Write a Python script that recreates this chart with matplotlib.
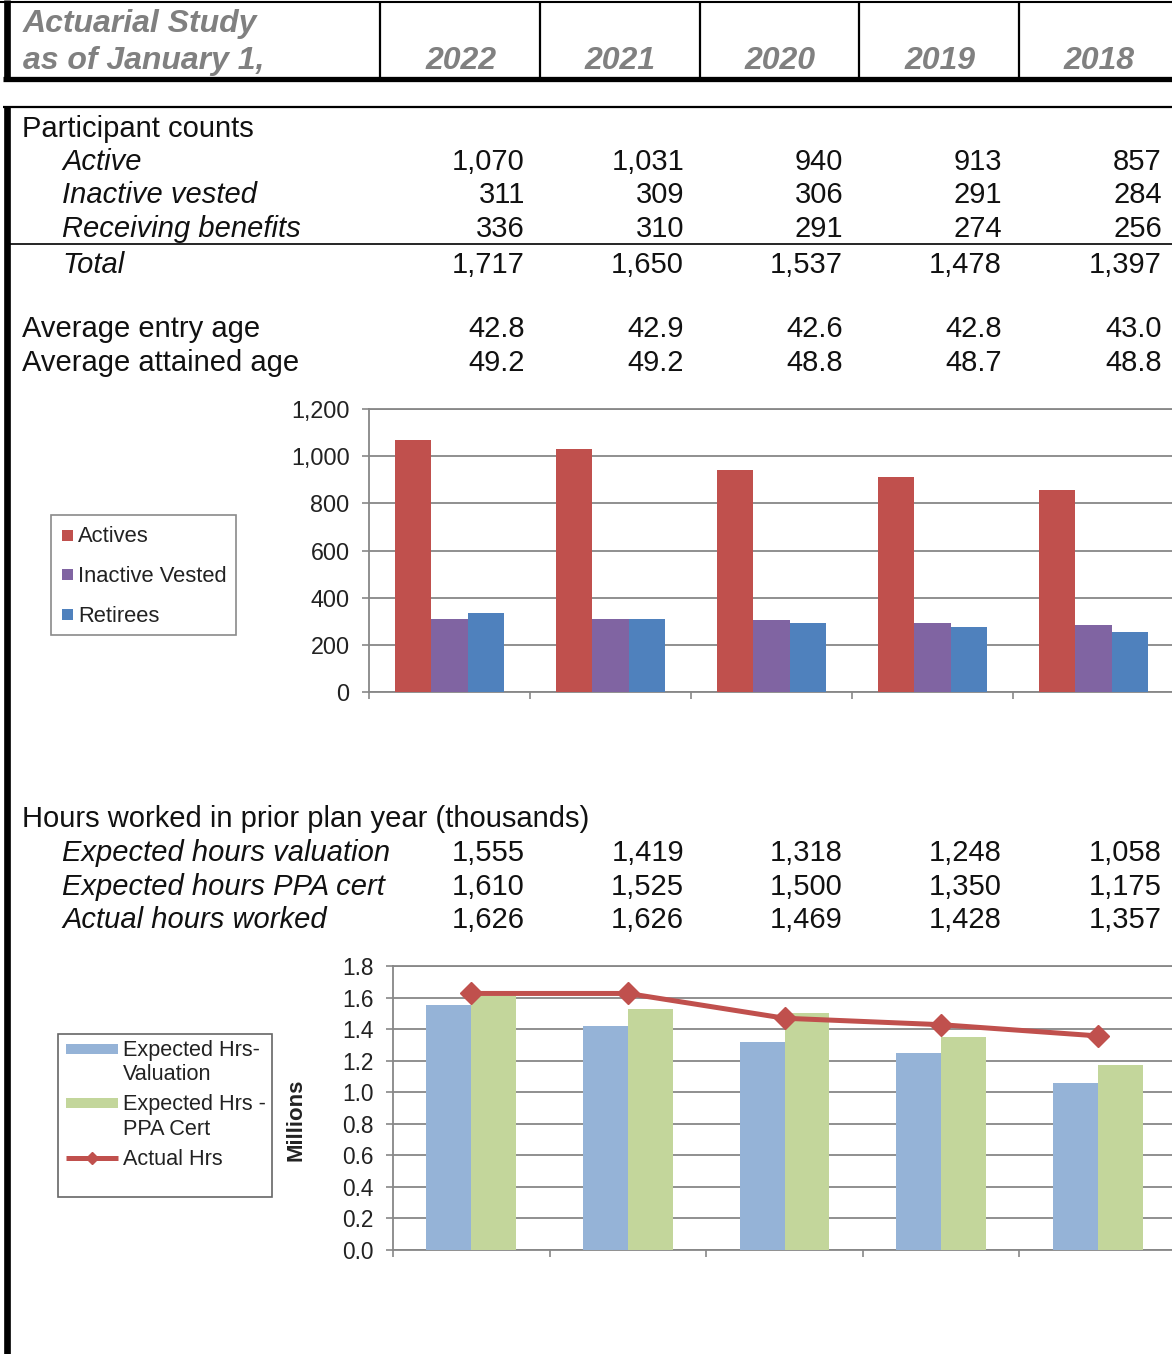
import numpy as np
import matplotlib
matplotlib.use("Agg")
import matplotlib.pyplot as plt
from matplotlib.lines import Line2D
from matplotlib.patches import Rectangle
from matplotlib.ticker import FuncFormatter

plt.rcParams["font.family"] = ["Liberation Sans", "DejaVu Sans"]

W, H = 1172, 1354

# ---- data -------------------------------------------------------------
years = ["2022", "2021", "2020", "2019", "2018"]

active = [1070, 1031, 940, 913, 857]
inactive_vested = [311, 309, 306, 291, 284]
receiving_benefits = [336, 310, 291, 274, 256]
total = [1717, 1650, 1537, 1478, 1397]

avg_entry_age = [42.8, 42.9, 42.6, 42.8, 43.0]
avg_attained_age = [49.2, 49.2, 48.8, 48.7, 48.8]

# hours worked, in thousands
hours_expected_valuation = [1555, 1419, 1318, 1248, 1058]
hours_expected_ppa = [1610, 1525, 1500, 1350, 1175]
hours_actual = [1626, 1626, 1469, 1428, 1357]

count_series = ["Actives", "Inactive Vested", "Retirees"]
hours_series = ["Expected Hrs-\nValuation", "Expected Hrs -\nPPA Cert", "Actual Hrs"]

# ---- style ------------------------------------------------------------
RED, PURPLE, BLUE = "#C0504D", "#8064A2", "#4F81BD"
LBLUE, LGREEN = "#95B3D7", "#C3D69B"
GRID = "#878787"
HEAD = "#808080"
TXT = "#111111"

fig = plt.figure(figsize=(W / 100, H / 100), dpi=100)


def fx(x):
    return x / W


def fy(y):
    return 1 - y / H


def put(x, y, s, **kw):
    kw.setdefault("fontsize", 21)
    kw.setdefault("va", "baseline")
    kw.setdefault("color", TXT)
    fig.text(fx(x), fy(y), s, **kw)


def seg(x0, y0, x1, y1, lw, color="black"):
    fig.add_artist(Line2D([fx(x0), fx(x1)], [fy(y0), fy(y1)], lw=lw,
                          color=color, solid_capstyle="butt"))


# ---- header band ------------------------------------------------------
seg(0, 1.5, W, 1.5, 1.5)
seg(6.5, 0, 6.5, 81, 4.8)
for xs in [380.5, 540, 699.5, 859, 1018.5]:
    seg(xs, 1, xs, 77, 1.6)
seg(3, 78.5, W, 78.5, 3.8)

head_kw = dict(fontsize=23, weight="bold", style="italic", color=HEAD)
put(23, 32, "Actuarial Study", **head_kw)
put(23, 69, "as of January 1,", **head_kw)
year_centers = [461, 620, 780, 940, 1099]
for cx, yr in zip(year_centers, years):
    put(cx, 69, yr, ha="center", **head_kw)

# ---- table body -------------------------------------------------------
seg(3, 107, W, 107, 1.6)
seg(6.5, 106, 6.5, H, 4.8)

num_right = [525, 684, 843, 1002, 1162]


def row(label, values, y, x=62, italic=True, fmt="{:,}"):
    put(x, y, label, style="italic" if italic else "normal")
    for xr, v in zip(num_right, values):
        put(xr, y, fmt.format(v), ha="right")


put(22, 137, "Participant counts")
row("Active", active, 170)
row("Inactive vested", inactive_vested, 203)
row("Receiving benefits", receiving_benefits, 237)
seg(10, 243.5, W, 243.5, 1.2)
row("Total", total, 273)

row("Average entry age", avg_entry_age, 337, x=22, italic=False, fmt="{:.1f}")
row("Average attained age", avg_attained_age, 371, x=22, italic=False, fmt="{:.1f}")

put(22, 827, "Hours worked in prior plan year (thousands)")
row("Expected hours valuation", hours_expected_valuation, 861)
row("Expected hours PPA cert", hours_expected_ppa, 895)
row("Actual hours worked", hours_actual, 928)


def style_axes(ax, ticks, fmt, labelsize):
    ax.set_xlim(-0.5, 4.5)
    ax.set_ylim(ticks[0], ticks[-1])
    ax.set_yticks(ticks)
    ax.yaxis.set_major_formatter(FuncFormatter(fmt))
    ax.yaxis.grid(True, color=GRID, lw=1.3)
    ax.set_axisbelow(True)
    ax.spines["right"].set_visible(False)
    for s in ("left", "bottom", "top"):
        ax.spines[s].set_color(GRID)
        ax.spines[s].set_linewidth(1.3)
    ax.set_xticks([])
    ax.set_xticks(np.arange(-0.5, 4.6, 1.0), minor=True)
    ax.tick_params(axis="x", which="minor", length=5, color=GRID, width=1.2)
    ax.tick_params(axis="y", length=5, color=GRID, width=1.2,
                   labelsize=labelsize, pad=9, labelcolor="#222222")


# ---- participant chart ------------------------------------------------
x = np.arange(len(years))
ax1 = fig.add_axes([fx(369), fy(692), (1174 - 369) / W, (692 - 409) / H])
w1 = 0.224
count_colors = [RED, PURPLE, BLUE]
for off, vals, col, name in zip([-w1, 0, w1],
                                [active, inactive_vested, receiving_benefits],
                                count_colors, count_series):
    ax1.bar(x + off, vals, w1, color=col, label=name, zorder=3)
style_axes(ax1, np.arange(0, 1201, 200), lambda v, p: f"{v:,.0f}", 16.8)

# legend box for participant chart
fig.add_artist(Rectangle((fx(51), fy(635)), (236 - 51) / W, (635 - 515) / H,
                         fill=False, edgecolor="#8a8a8a", lw=1.2))
for yc, col, name in zip([535, 574, 614], count_colors, count_series):
    fig.add_artist(Rectangle((fx(62), fy(yc + 5.5)), 11 / W, 11 / H,
                             facecolor=col, edgecolor="none"))
    put(78, yc + 2, name, fontsize=15.8, va="center", color="#222222")

# ---- hours chart ------------------------------------------------------
ax2 = fig.add_axes([fx(393), fy(1250), (1176 - 393) / W, (1250 - 966) / H])
w2 = 0.287
ax2.bar(x - w2 / 2, np.array(hours_expected_valuation) / 1000, w2,
        color=LBLUE, label=hours_series[0], zorder=3)
ax2.bar(x + w2 / 2, np.array(hours_expected_ppa) / 1000, w2,
        color=LGREEN, label=hours_series[1], zorder=3)
ax2.plot(x, np.array(hours_actual) / 1000, color=RED, lw=3.6, marker="D",
         ms=11, zorder=5, label=hours_series[2])
style_axes(ax2, np.round(np.arange(0, 1.81, 0.2), 1), lambda v, p: f"{v:.1f}", 16.3)

put(296, 1120, "Millions", rotation=90, ha="center", va="center",
    fontsize=16, weight="bold", color="#222222")

# legend box for hours chart
fig.add_artist(Rectangle((fx(58), fy(1197)), (272 - 58) / W, (1197 - 1034) / H,
                         fill=False, edgecolor="#666666", lw=1.2))
for yc, col in zip([1049, 1103], [LBLUE, LGREEN]):
    fig.add_artist(Rectangle((fx(66), fy(yc + 5)), 52 / W, 10 / H,
                             facecolor=col, edgecolor="none"))
fig.add_artist(Line2D([fx(66), fx(118)], [fy(1158), fy(1158)], color=RED,
                      lw=3.6, solid_capstyle="butt"))
fig.add_artist(Line2D([fx(92)], [fy(1158)], color=RED, marker="D", ms=6))
label_lines = [(1049, hours_series[0].split("\n")[0]),
               (1073, hours_series[0].split("\n")[1]),
               (1103, hours_series[1].split("\n")[0]),
               (1128, hours_series[1].split("\n")[1]),
               (1158, hours_series[2])]
for yc, s in label_lines:
    put(123, yc + 1.5, s, fontsize=15.6, va="center", color="#222222")

fig.savefig("out.png", dpi=100)
